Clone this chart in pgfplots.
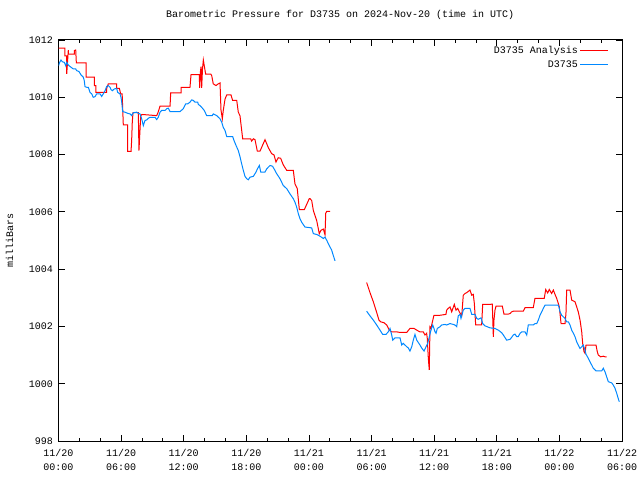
\documentclass[border=0pt]{standalone}
\usepackage{fontspec}
\setmainfont{Liberation Mono}
\usepackage{pgfplots}
\pgfplotsset{compat=1.18}

\definecolor{anared}{RGB}{255,0,0}
\definecolor{obsblue}{RGB}{0,136,255}

\begin{document}
\begin{tikzpicture}
\useasboundingbox (0,0) rectangle (640bp,480bp);
\begin{axis}[
    at={(58.5bp,39bp)}, anchor=south west,
    scale only axis,
    width=563.5bp, height=401bp,
    xmin=0, xmax=54, ymin=998, ymax=1012,
    axis line style={line width=1bp},
    tick align=inside,
    major tick length=6bp, minor tick length=3bp,
    tick style={line width=0.8bp, black},
    xtick={0,6,...,54},
    minor xtick={2,4,8,10,14,16,20,22,26,28,32,34,38,40,44,46,50,52},
    xticklabels={11/20\\00:00,11/20\\06:00,11/20\\12:00,11/20\\18:00,11/21\\00:00,11/21\\06:00,11/21\\12:00,11/21\\18:00,11/22\\00:00,11/22\\06:00},
    xticklabel style={align=center, yshift=-5bp, font=\fontsize{10bp}{14bp}\selectfont},
    ytick={998,1000,...,1012},
    yticklabel style={font=\fontsize{10bp}{12bp}\selectfont, xshift=-2bp},
    /pgf/number format/assume math mode=true,
    /pgf/number format/1000 sep={},
    scaled ticks=false,
    ylabel={milliBars},
    ylabel style={at={(axis description cs:-0.087,0.5)}, anchor=center, font=\fontsize{10bp}{12bp}\selectfont},
    title={Barometric Pressure for D3735 on 2024-Nov-20 (time in UTC)},
    title style={at={(0.5,1)}, anchor=base, yshift=17bp, font=\fontsize{10bp}{12bp}\selectfont},
    unbounded coords=jump,
    legend style={draw=none, fill=none, at={(axis description cs:1,1)}, anchor=north east,
        xshift=-10bp, yshift=-2bp, font=\fontsize{10bp}{12bp}\selectfont, row sep=2bp},
    legend cell align=right,
    legend plot pos=right,
    legend image code/.code={\draw[#1, line width=1bp] (3bp,0bp) -- (31bp,0bp);},
]
\addplot[anared, line width=1bp] coordinates {
(0,1011.72) (0.62,1011.72) (0.62,1011.45) (0.79,1011.45) (0.79,1010.82) (0.94,1011.65) (0.94,1011.51) (1.51,1011.51) (1.51,1011.63) (1.65,1011.65) (1.71,1011.20) (2.64,1011.20) (2.64,1010.70) (3.43,1010.70) (3.43,1010.41) (3.59,1010.41) (3.59,1010.17) (4.62,1010.17) (4.62,1010.31) (4.77,1010.47) (5.58,1010.47) (5.58,1010.31) (5.83,1010.31) (5.96,1010.12) (6.10,1010.12) (6.21,1009.04) (6.63,1009.04) (6.63,1008.11) (6.95,1008.11) (7.01,1008.49) (7.07,1009.13) (7.14,1009.46) (7.65,1009.46) (7.71,1008.14) (7.88,1009.36) (8.00,1009.40) (9.41,1009.36) (9.54,1009.47) (9.73,1009.69) (10.69,1009.69) (10.75,1010.15) (11.74,1010.15) (11.74,1010.35) (12.60,1010.35) (12.70,1010.79) (13.49,1010.79) (13.53,1010.33) (13.59,1010.86) (13.66,1011.07) (13.72,1010.33) (13.80,1011.00) (13.88,1011.30) (13.97,1011.10) (14.10,1010.81) (14.59,1010.81) (14.68,1010.76) (14.83,1010.47) (15.09,1010.41) (15.31,1010.47) (15.48,1010.50) (15.57,1009.56) (15.70,1009.25) (15.79,1009.54) (15.96,1009.94) (16.12,1010.08) (16.53,1010.08) (16.69,1009.89) (17.08,1009.89) (17.23,1009.48) (17.39,1009.36) (17.65,1008.55) (18.42,1008.55) (18.51,1008.47) (18.67,1008.55) (18.83,1008.52) (19.05,1008.12) (19.31,1008.12) (19.79,1008.52) (20.11,1008.24) (20.43,1008.03) (20.65,1007.99) (20.84,1007.74) (21.06,1007.89) (21.29,1007.87) (21.54,1007.64) (21.87,1007.45) (22.50,1007.45) (22.66,1006.98) (22.88,1006.81) (23.08,1006.08) (23.56,1006.08) (24.03,1006.46) (24.10,1006.46) (24.26,1006.40) (24.42,1006.05) (24.74,1005.70) (24.99,1005.24) (25.16,1005.36) (25.38,1005.40) (25.54,1005.20) (25.61,1005.95) (25.70,1006.02) (26.02,1006.02)
(27.5,nan)
(29.53,1003.53) (29.85,1003.18) (30.17,1002.86) (30.49,1002.49) (30.71,1002.22) (30.88,1002.16) (31.19,1002.13) (31.45,1002.05) (31.70,1001.87) (31.93,1001.81) (32.41,1001.81) (32.73,1001.79) (33.37,1001.79) (33.68,1001.93) (34.07,1001.93) (34.33,1001.87) (34.64,1001.81) (34.96,1001.81) (35.12,1001.70) (35.28,1001.76) (35.34,1001.58) (35.44,1000.89) (35.53,1000.48) (35.60,1001.99) (35.70,1001.93) (35.76,1002.05) (35.98,1002.39) (36.56,1002.39) (37.13,1002.42) (37.20,1002.57) (37.35,1002.63) (37.52,1002.68) (37.68,1002.51) (37.93,1002.77) (38.09,1002.57) (38.26,1002.63) (38.41,1002.51) (38.64,1002.37) (38.79,1003.09) (38.96,1003.15) (39.12,1003.18) (39.43,1003.27) (39.60,1003.09) (39.75,1003.12) (39.85,1002.80) (39.98,1002.05) (40.55,1002.05) (40.65,1002.77) (41.35,1002.77) (41.57,1002.78) (41.67,1001.64) (41.73,1002.22) (41.83,1002.57) (41.93,1002.71) (42.53,1002.71) (42.69,1002.43) (43.10,1002.43) (43.27,1002.45) (43.43,1002.51) (43.58,1002.53) (44.54,1002.53) (44.71,1002.66) (45.50,1002.66) (45.66,1002.98) (46.55,1002.98) (46.69,1003.29) (46.88,1003.17) (47.03,1003.29) (47.26,1003.15) (47.42,1003.27) (47.58,1003.12) (47.74,1002.98) (47.90,1002.80) (47.99,1002.68) (48.06,1002.45) (48.16,1002.10) (48.54,1002.10) (48.63,1002.45) (48.70,1003.27) (49.02,1003.27) (49.18,1002.92) (49.50,1002.86) (49.66,1002.68) (49.81,1002.51) (49.98,1002.22) (50.14,1001.81) (50.23,1001.41) (50.36,1001.12) (50.46,1001.06) (50.55,1001.35) (51.51,1001.35) (51.63,1001.12) (51.73,1001.00) (51.96,1000.94) (52.21,1000.96) (52.37,1000.94) (52.53,1000.94)
};
\addlegendentry{D3735 Analysis}
\addplot[obsblue, line width=1bp] coordinates {
(0,1011.10) (0.11,1011.22) (0.24,1011.30) (0.37,1011.24) (0.56,1011.22) (0.69,1011.10) (0.79,1011.22) (0.88,1011.16) (1.01,1011.10) (1.20,1011.05) (1.42,1010.99) (1.65,1010.99) (1.74,1010.93) (1.96,1010.90) (2.16,1010.78) (2.38,1010.70) (2.47,1010.58) (2.54,1010.37) (2.70,1010.35) (2.86,1010.35) (3.02,1010.17) (3.18,1010.12) (3.33,1010.00) (3.50,1010.02) (3.66,1010.12) (3.98,1010.12) (4.14,1010.03) (4.29,1010.12) (4.46,1010.23) (4.62,1010.38) (4.77,1010.41) (4.94,1010.35) (5.03,1010.27) (5.16,1010.23) (5.35,1010.29) (5.58,1010.31) (5.67,1010.17) (5.89,1010.12) (5.99,1010.00) (6.06,1009.83) (6.15,1009.50) (6.37,1009.48) (6.63,1009.44) (6.85,1009.42) (7.01,1009.36) (7.17,1009.46) (7.49,1009.48) (7.65,1009.44) (7.81,1009.42) (7.97,1009.25) (8.13,1009.01) (8.29,1009.19) (8.45,1009.21) (8.61,1009.27) (8.77,1009.30) (9.25,1009.30) (9.41,1009.22) (9.56,1009.30) (9.73,1009.48) (9.89,1009.54) (10.21,1009.54) (10.37,1009.60) (10.52,1009.62) (10.69,1009.50) (11.64,1009.50) (11.96,1009.60) (12.19,1009.77) (12.38,1009.77) (12.60,1009.83) (12.76,1009.91) (12.92,1009.89) (13.08,1009.83) (13.34,1009.83) (13.40,1009.75) (13.56,1009.71) (13.72,1009.65) (13.97,1009.54) (14.20,1009.36) (14.74,1009.36) (14.83,1009.42) (15.16,1009.36) (15.48,1009.25) (15.64,1009.13) (15.79,1008.95) (15.96,1008.84) (16.12,1008.63) (16.69,1008.63) (16.82,1008.49) (17.01,1008.32) (17.23,1008.14) (17.39,1007.93) (17.55,1007.68) (17.71,1007.45) (17.87,1007.24) (18.03,1007.16) (18.19,1007.12) (18.35,1007.21) (18.67,1007.24) (18.93,1007.39) (19.06,1007.50) (19.25,1007.62) (19.38,1007.39) (19.79,1007.39) (19.95,1007.50) (20.27,1007.62) (20.52,1007.59) (20.74,1007.45) (20.91,1007.33) (21.22,1007.16) (21.54,1006.92) (21.87,1006.81) (22.18,1006.63) (22.50,1006.46) (22.66,1006.34) (22.82,1006.17) (22.98,1005.94) (23.14,1005.76) (23.30,1005.64) (23.62,1005.47) (24.26,1005.44) (24.42,1005.24) (24.74,1005.21) (25.06,1005.15) (25.38,1005.07) (25.54,1005.12) (25.70,1005.01) (25.86,1004.89) (26.18,1004.66) (26.33,1004.48) (26.50,1004.29)
(28,nan)
(29.53,1002.53) (29.85,1002.37) (30.17,1002.22) (30.49,1002.05) (30.81,1001.87) (31.07,1001.72) (31.38,1001.72) (31.60,1001.81) (31.77,1001.93) (31.93,1001.70) (32.03,1001.52) (32.25,1001.60) (32.73,1001.60) (32.89,1001.35) (33.04,1001.41) (33.37,1001.29) (33.52,1001.25) (33.68,1001.14) (33.85,1001.29) (34.00,1001.52) (34.16,1001.72) (34.33,1001.52) (34.64,1001.35) (34.80,1001.25) (35.03,1001.14) (35.22,1001.29) (35.38,1001.41) (35.54,1001.64) (35.67,1001.84) (35.86,1002.05) (35.98,1001.93) (36.08,1001.81) (36.18,1001.76) (36.30,1001.93) (36.56,1001.99) (36.72,1002.05) (37.04,1002.07) (37.20,1002.05) (37.52,1002.10) (37.83,1002.07) (37.99,1002.05) (38.16,1001.99) (38.31,1002.37) (38.48,1002.42) (38.57,1002.28) (38.79,1002.57) (38.96,1002.63) (39.43,1002.63) (39.60,1002.42) (39.91,1002.42) (40.08,1002.28) (40.23,1002.25) (40.39,1002.28) (40.49,1002.30) (40.65,1002.10) (40.87,1002.02) (41.35,1001.95) (41.83,1001.93) (42.15,1001.87) (42.47,1001.78) (42.63,1001.70) (42.95,1001.52) (43.27,1001.55) (43.43,1001.62) (43.58,1001.70) (43.75,1001.73) (43.91,1001.64) (44.06,1001.64) (44.23,1001.76) (44.39,1001.81) (44.71,1001.81) (44.87,1001.70) (45.02,1002.05) (45.50,1002.05) (45.66,1002.10) (45.83,1002.10) (45.98,1002.22) (46.14,1002.39) (46.31,1002.51) (46.46,1002.63) (46.62,1002.74) (47.90,1002.74) (47.99,1002.63) (48.06,1002.51) (48.22,1002.39) (48.54,1002.28) (48.70,1002.16) (48.86,1002.16) (49.02,1002.05) (49.18,1001.87) (49.34,1001.76) (49.50,1001.64) (49.66,1001.46) (49.81,1001.35) (49.98,1001.23) (50.14,1001.29) (50.29,1001.35) (50.46,1001.17) (50.55,1001.03) (50.77,1000.89) (50.93,1000.77) (51.10,1000.65) (51.25,1000.54) (51.51,1000.45) (52.06,1000.45) (52.21,1000.54) (52.37,1000.42) (52.53,1000.24) (52.69,1000.07) (53.01,1000.03) (53.17,999.95) (53.33,999.84) (53.49,999.67) (53.65,999.47) (53.74,999.37)
};
\addlegendentry{D3735}
\end{axis}
\end{tikzpicture}
\end{document}
